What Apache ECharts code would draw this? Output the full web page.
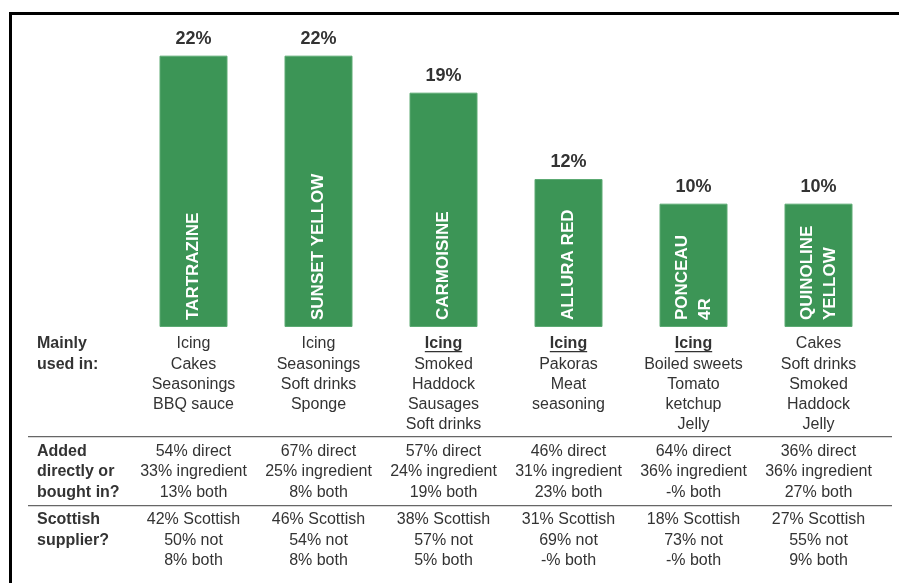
<!DOCTYPE html>
<html>
<head>
<meta charset="utf-8">
<title>Food colours</title>
<script src="https://cdn.jsdelivr.net/npm/echarts@6/dist/echarts.min.js"></script>
<style>
  html, body { margin: 0; padding: 0; background: #fff; }
  #chart { width: 899px; height: 583px; }
</style>
</head>
<body>
<div id="chart"></div>
<script>
// Colour names (bar labels) and share of businesses using each, in %
const colours = ['TARTRAZINE', 'SUNSET YELLOW', 'CARMOISINE', 'ALLURA RED', 'PONCEAU\n4R', 'QUINOLINE\nYELLOW'];
const shares = [22, 22, 19, 12, 10, 10];

// "Mainly used in" – first item is shown bold/underlined where it is the dominant use
const usedIn = [
  ['Icing', 'Cakes', 'Seasonings', 'BBQ sauce'],
  ['Icing', 'Seasonings', 'Soft drinks', 'Sponge'],
  ['Icing', 'Smoked', 'Haddock', 'Sausages', 'Soft drinks'],
  ['Icing', 'Pakoras', 'Meat', 'seasoning'],
  ['Icing', 'Boiled sweets', 'Tomato', 'ketchup', 'Jelly'],
  ['Cakes', 'Soft drinks', 'Smoked', 'Haddock', 'Jelly']
];
const mainUse = [false, false, true, true, true, false];

// Added directly or bought in as an ingredient (%; null = not reported)
const addedDirect = [54, 67, 57, 46, 64, 36];
const addedIngredient = [33, 25, 24, 31, 36, 36];
const addedBoth = [13, 8, 19, 23, null, 27];

// Scottish supplier (%; null = not reported)
const supplierScottish = [42, 46, 38, 31, 18, 27];
const supplierNot = [50, 54, 57, 69, 73, 55];
const supplierBoth = [8, 8, 5, null, null, 9];

// Row headings of the table under the bars
const rowHeads = [
  ['Mainly', 'used in:'],
  ['Added', 'directly or', 'bought in?'],
  ['Scottish', 'supplier?']
];

const FONT = '"Liberation Sans", Arial, Helvetica, sans-serif';
const TEXT = '#333333';
const GREEN = '#3c9556';

const pct = v => (v === null ? '-' : v) + '%';

const chart = echarts.init(document.getElementById('chart'), null, { renderer: 'canvas' });

chart.setOption({
  animation: false,
  backgroundColor: '#ffffff',
  grid: { left: 131, right: 18, top: 31, bottom: 256 },
  xAxis: {
    type: 'category',
    data: colours,
    axisLine: { show: false },
    axisTick: { show: false },
    axisLabel: { show: false }
  },
  yAxis: {
    type: 'value',
    min: 0,
    max: 24,
    show: false,
    splitLine: { show: false }
  },
  series: [
    {
      type: 'bar',
      data: shares,
      barWidth: 68,
      itemStyle: { color: GREEN, borderColor: '#5caa73', borderWidth: 1 },
      label: {
        show: true,
        position: 'insideBottom',
        rotate: 90,
        align: 'left',
        verticalAlign: 'middle',
        distance: 7,
        formatter: p => colours[p.dataIndex],
        color: '#ffffff',
        fontFamily: FONT,
        fontWeight: 'bold',
        fontSize: 17,
        lineHeight: 23
      }
    },
    {
      // transparent overlay that carries the value labels above the bars
      type: 'bar',
      data: shares,
      barWidth: 68,
      barGap: '-100%',
      silent: true,
      itemStyle: { color: 'rgba(0,0,0,0)' },
      label: {
        show: true,
        position: 'top',
        distance: 8,
        formatter: p => p.value + '%',
        color: TEXT,
        fontFamily: FONT,
        fontWeight: 'bold',
        fontSize: 18
      }
    }
  ]
});

// ---- table beneath the bars, placed on the category axis positions ----
const ctx = document.createElement('canvas').getContext('2d');
function textWidth(str, font) { ctx.font = font; return ctx.measureText(str).width; }

const LINE = 20.2;
const rowFirstCentre = [344, 451.7, 520];
const headX = 37;

const elements = [];

function addText(str, x, y, bold, align) {
  elements.push({
    type: 'text',
    x: x, y: y,
    silent: true,
    style: {
      text: str,
      fill: TEXT,
      font: (bold ? 'bold ' : '') + '16px ' + FONT,
      textAlign: align, align: align,
      textVerticalAlign: 'middle', verticalAlign: 'middle'
    }
  });
}

function addLine(x1, y1, x2, y2, color, width) {
  elements.push({
    type: 'line',
    silent: true,
    shape: { x1: x1, y1: y1, x2: x2, y2: y2 },
    style: { stroke: color, lineWidth: width }
  });
}

// headings
rowHeads.forEach((lines, r) => {
  lines.forEach((t, i) => addText(t, headX, rowFirstCentre[r] + i * LINE, true, 'left'));
});

// cells
colours.forEach((name, c) => {
  const cx = chart.convertToPixel({ xAxisIndex: 0 }, c);

  usedIn[c].forEach((t, i) => {
    const y = rowFirstCentre[0] + i * LINE;
    const strong = mainUse[c] && i === 0;
    addText(t, cx, y, strong, 'center');
    if (strong) {
      const w = textWidth(t, 'bold 16px ' + FONT);
      addLine(cx - w / 2, y + 7.6, cx + w / 2, y + 7.6, TEXT, 1.4);
    }
  });

  const added = [pct(addedDirect[c]) + ' direct', pct(addedIngredient[c]) + ' ingredient', pct(addedBoth[c]) + ' both'];
  added.forEach((t, i) => addText(t, cx, rowFirstCentre[1] + i * LINE, false, 'center'));

  const supp = [pct(supplierScottish[c]) + ' Scottish', pct(supplierNot[c]) + ' not', pct(supplierBoth[c]) + ' both'];
  supp.forEach((t, i) => addText(t, cx, rowFirstCentre[2] + i * LINE, false, 'center'));
});

// row separators
addLine(28, 436.7, 892, 436.7, '#666666', 1.3);
addLine(28, 505.7, 892, 505.7, '#666666', 1.3);

// frame: heavy rule along the top and down the left side
addLine(9, 13.5, 899, 13.5, '#000000', 3);
addLine(10.5, 12, 10.5, 583, '#000000', 3);

chart.setOption({ graphic: { elements: elements } });
</script>
</body>
</html>
